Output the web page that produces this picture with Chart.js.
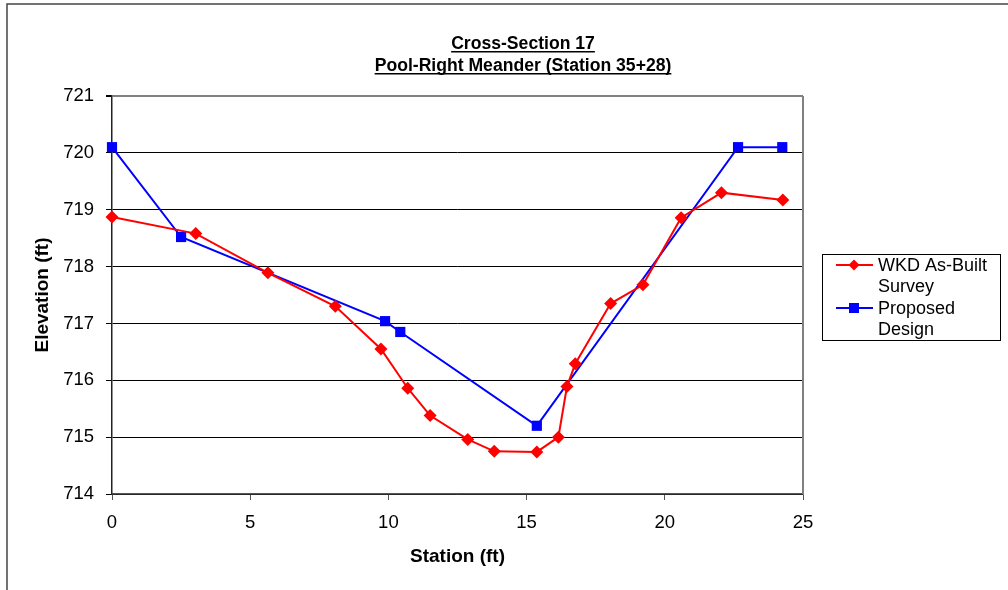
<!DOCTYPE html>
<html>
<head>
<meta charset="utf-8">
<script src="https://cdn.jsdelivr.net/npm/chart.js@4.4.1/dist/chart.umd.min.js"></script>
<style>
  html, body { margin: 0; padding: 0; background: #fff; }
  #wrap { width: 1008px; height: 590px; position: relative; }
</style>
</head>
<body>
<div id="wrap"><canvas id="myChart" width="1008" height="590"></canvas></div>
<script>
const titleLines = ["Cross-Section 17", "Pool-Right Meander (Station 35+28)"];
const seriesNames = ["WKD As-Built Survey", "Proposed Design"];

// WKD as-built survey
const surveyStation = [0, 3.03, 5.64, 8.08, 9.73, 10.7, 11.51, 12.87, 13.83, 15.37, 16.15, 16.46, 16.76, 18.04, 19.21, 20.59, 22.05, 24.27];
const surveyElev = [718.87, 718.58, 717.89, 717.3, 716.55, 715.86, 715.38, 714.96, 714.75, 714.74, 715.0, 715.89, 716.29, 717.35, 717.68, 718.86, 719.3, 719.17];

// proposed design
const designStation = [0, 2.5, 9.88, 10.43, 15.37, 22.65, 24.25];
const designElev = [720.1, 718.52, 717.04, 716.85, 715.2, 720.1, 720.1];

const xTicks = [0, 5, 10, 15, 20, 25];
const yTicks = [714, 715, 716, 717, 718, 719, 720, 721];

const FONT = "'Liberation Sans', Arial, sans-serif";

function toPoints(xs, ys) {
  return xs.map((x, i) => ({ x: x, y: ys[i] }));
}

// title, plot frame, outer frame and the wrapped legend
const decorPlugin = {
  id: "decor",
  afterDraw(chart) {
    const ctx = chart.ctx;
    const area = chart.chartArea;
    ctx.save();

    // outer frame
    ctx.strokeStyle = "#444";
    ctx.lineWidth = 1.5;
    ctx.beginPath();
    ctx.moveTo(7, 590);
    ctx.lineTo(7, 4);
    ctx.lineTo(1008, 4);
    ctx.stroke();

    // right border of plot area
    ctx.strokeStyle = "#808080";
    ctx.lineWidth = 2;
    ctx.beginPath();
    ctx.moveTo(area.right, area.top);
    ctx.lineTo(area.right, area.bottom);
    ctx.stroke();

    // title with underline
    ctx.fillStyle = "#000";
    ctx.font = "bold 17.6px " + FONT;
    ctx.textAlign = "center";
    ctx.textBaseline = "alphabetic";
    const cx = 523;
    const baseY = [49, 71];
    titleLines.forEach((t, i) => {
      ctx.fillText(t, cx, baseY[i]);
      const w = ctx.measureText(t).width;
      ctx.fillRect(cx - w / 2, baseY[i] + 2, w, 1.5);
    });

    // legend box
    ctx.strokeStyle = "#000";
    ctx.lineWidth = 1;
    ctx.strokeRect(822.5, 254.5, 178, 86);

    ctx.font = "18px " + FONT;
    ctx.textAlign = "left";
    ctx.textBaseline = "middle";
    const entries = [
      { color: "#ff0000", shape: "diamond", y: 265, lines: ["WKD As-Built", "Survey"] },
      { color: "#0000ff", shape: "square", y: 308, lines: ["Proposed", "Design"] },
    ];
    entries.forEach((e) => {
      ctx.strokeStyle = e.color;
      ctx.fillStyle = e.color;
      ctx.lineWidth = 2;
      ctx.beginPath();
      ctx.moveTo(836, e.y);
      ctx.lineTo(873, e.y);
      ctx.stroke();
      const mx = 854;
      ctx.beginPath();
      if (e.shape === "diamond") {
        ctx.moveTo(mx, e.y - 5.5);
        ctx.lineTo(mx + 5.5, e.y);
        ctx.lineTo(mx, e.y + 5.5);
        ctx.lineTo(mx - 5.5, e.y);
        ctx.closePath();
      } else {
        ctx.rect(mx - 5, e.y - 5, 10, 10);
      }
      ctx.fill();
      ctx.fillStyle = "#000";
      e.lines.forEach((l, j) => ctx.fillText(l, 878, e.y + 1 + j * 21.5));
    });
    ctx.restore();
  },
};

const ctx = document.getElementById("myChart").getContext("2d");
const myChart = new Chart(ctx, {
  type: "scatter",
  data: {
    datasets: [
      {
        label: seriesNames[0],
        data: toPoints(surveyStation, surveyElev),
        showLine: true,
        clip: false,
        borderColor: "#ff0000",
        backgroundColor: "#ff0000",
        borderWidth: 2,
        pointStyle: "rectRot",
        pointRadius: 6.5,
        pointHoverRadius: 6.5,
        pointBorderWidth: 0,
      },
      {
        label: seriesNames[1],
        data: toPoints(designStation, designElev),
        showLine: true,
        clip: false,
        borderColor: "#0000ff",
        backgroundColor: "#0000ff",
        borderWidth: 2,
        pointStyle: "rect",
        pointRadius: 7.2,
        pointHoverRadius: 7.2,
        pointBorderWidth: 0,
      },
    ],
  },
  options: {
    responsive: false,
    animation: false,
    layout: { padding: { left: 0, top: 96, right: 205, bottom: 0 } },
    plugins: {
      legend: { display: false },
      title: { display: false },
      tooltip: { enabled: false },
    },
    scales: {
      x: {
        type: "linear",
        min: 0,
        max: 25,
        afterBuildTicks: (s) => { s.ticks = xTicks.map((v) => ({ value: v })); },
        afterFit: (s) => { s.height = 96; },
        ticks: { color: "#000", padding: 12, font: { family: FONT, size: 18.5 } },
        grid: { drawOnChartArea: false, tickLength: 6, tickColor: "#555" },
        border: { color: "#555", width: 1.5 },
        title: {
          display: true,
          text: "Station (ft)",
          color: "#000",
          font: { family: FONT, size: 19, weight: "bold" },
          padding: { top: 0, bottom: 22 },
        },
      },
      y: {
        type: "linear",
        min: 714,
        max: 721,
        afterBuildTicks: (s) => { s.ticks = yTicks.map((v) => ({ value: v })); },
        afterFit: (s) => { s.width = 112; },
        ticks: { color: "#000", padding: 12, font: { family: FONT, size: 18.5 } },
        grid: {
          color: (c) => (c.tick && c.tick.value === 721 ? "#808080" : "#000"),
          lineWidth: (c) => (c.tick && c.tick.value === 721 ? 2 : 1),
          tickLength: 6,
          tickColor: "#000",
        },
        border: { color: "#222", width: 1.5 },
        title: {
          display: true,
          text: "Elevation (ft)",
          color: "#000",
          font: { family: FONT, size: 19, weight: "bold" },
          padding: { top: 31, bottom: 0 },
        },
      },
    },
  },
  plugins: [decorPlugin],
});
</script>
</body>
</html>
